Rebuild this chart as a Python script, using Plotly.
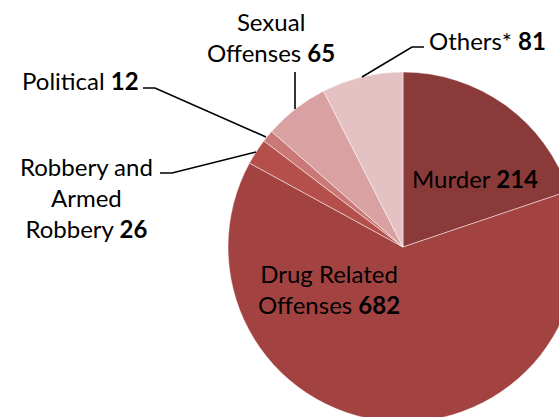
import plotly.graph_objects as go

categories = ["Murder", "Drug Related Offenses", "Robbery and Armed Robbery",
              "Political", "Sexual Offenses", "Others*"]
values = [214, 682, 26, 12, 65, 81]
colors = ["#8B3A3A", "#A34341", "#B54F4B", "#C97876", "#D9A1A1", "#E4C1C3"]

# label text lines (the last line carries the bold value)
label_lines = {
    "Murder": ["Murder"],
    "Drug Related Offenses": ["Drug Related", "Offenses"],
    "Robbery and Armed Robbery": ["Robbery and", "Armed", "Robbery"],
    "Political": ["Political"],
    "Sexual Offenses": ["Sexual", "Offenses"],
    "Others*": ["Others*"],
}

W, H = 600, 440
FONT = "Lato"
FS = 24


def px(x, y):
    return x / W, 1 - y / H


cx, cy, R = 403, 247, 175
fig = go.Figure(go.Pie(
    labels=categories, values=values, sort=False, direction="clockwise",
    rotation=0, textinfo="none", hoverinfo="label+value",
    marker=dict(colors=colors, line=dict(color="rgba(255,255,255,0.6)", width=0.8)),
    domain=dict(x=[(cx - R) / W, (cx + R) / W], y=[1 - (cy + R) / H, 1 - (cy - R) / H]),
    showlegend=False,
))

# label positions (window pixels)
label_pos = {
    "Murder": (475, 178),
    "Drug Related Offenses": (329, 289),
    "Robbery and Armed Robbery": (86, 197),
    "Political": (80, 80),
    "Sexual Offenses": (271, 37),
    "Others*": (487, 40),
}

annotations = []
for cat, v in zip(categories, values):
    lines = label_lines[cat]
    text = "<br>".join(lines[:-1] + [f"{lines[-1]} <b>{v}</b>"])
    x, y = px(*label_pos[cat])
    annotations.append(dict(x=x, y=y, xref="paper", yref="paper", text=text,
                            showarrow=False, xanchor="center", yanchor="middle",
                            align="center", font=dict(family=FONT, size=FS, color="#000000")))

leaders = [
    [(295, 72), (295, 109)],
    [(424, 47), (412, 47), (362, 77)],
    [(143, 88), (155, 88), (266, 137)],
    [(160, 173), (172, 173), (256, 152)],
]
shapes = []
for pts in leaders:
    p = [px(*q) for q in pts]
    path = "M " + " L ".join(f"{a},{b}" for a, b in p)
    shapes.append(dict(type="path", path=path, xref="paper", yref="paper",
                       line=dict(color="#000000", width=1.6)))

fig.update_layout(width=W, height=H, margin=dict(l=0, r=0, t=0, b=0),
                  paper_bgcolor="white", plot_bgcolor="white",
                  annotations=annotations, shapes=shapes)

fig.write_html("out.html", config={"displayModeBar": False}, post_script=(
    "document.body.style.margin='0';document.body.style.overflow='hidden';"
    "document.documentElement.style.overflow='hidden';"))
